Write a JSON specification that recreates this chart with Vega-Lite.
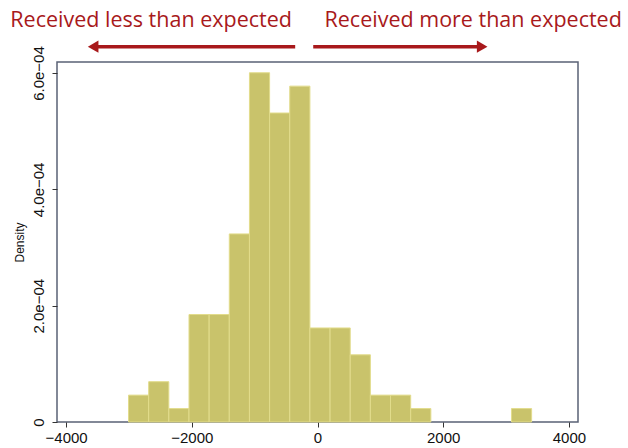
{
  "$schema": "https://vega.github.io/schema/vega-lite/v6.json",
  "width": 521,
  "height": 360,
  "autosize": "none",
  "padding": {"left": 57, "top": 62, "right": 50, "bottom": 26},
  "background": "white",
  "config": {
    "view": {"stroke": "#5a6276", "strokeWidth": 1.5},
    "font": "Liberation Sans"
  },
  "layer": [
    {
      "data": {
        "values": [
          {"bin_start": -3007, "bin_end": -2686.3, "density": 0.0000462},
          {"bin_start": -2686.3, "bin_end": -2365.6, "density": 0.0000693},
          {"bin_start": -2365.6, "bin_end": -2044.9, "density": 0.0000231},
          {"bin_start": -2044.9, "bin_end": -1724.2, "density": 0.0001848},
          {"bin_start": -1724.2, "bin_end": -1403.5, "density": 0.0001848},
          {"bin_start": -1403.5, "bin_end": -1082.8, "density": 0.0003234},
          {"bin_start": -1082.8, "bin_end": -762.1, "density": 0.0006005},
          {"bin_start": -762.1, "bin_end": -441.4, "density": 0.0005313},
          {"bin_start": -441.4, "bin_end": -120.7, "density": 0.0005775},
          {"bin_start": -120.7, "bin_end": 200, "density": 0.0001617},
          {"bin_start": 200, "bin_end": 520.7, "density": 0.0001617},
          {"bin_start": 520.7, "bin_end": 841.4, "density": 0.0001155},
          {"bin_start": 841.4, "bin_end": 1162.1, "density": 0.0000462},
          {"bin_start": 1162.1, "bin_end": 1482.8, "density": 0.0000462},
          {"bin_start": 1482.8, "bin_end": 1803.5, "density": 0.0000231},
          {"bin_start": 3086.3, "bin_end": 3407, "density": 0.0000231}
        ]
      },
      "mark": {"type": "bar", "fill": "#c9c36b", "stroke": "#e2dc8c", "strokeWidth": 1},
      "encoding": {
        "x": {
          "field": "bin_start",
          "type": "quantitative",
          "scale": {"domain": [-4145, 4145], "nice": false, "zero": false},
          "axis": {
            "values": [-4000, -2000, 0, 2000, 4000],
            "labelExpr": "replace(format(datum.value, 'd'), '-', '\u2212')",
            "grid": false,
            "domain": false,
            "tickColor": "#333333",
            "tickSize": 5,
            "tickWidth": 1,
            "labelFontSize": 15,
            "labelColor": "#111111",
            "labelPadding": 3,
            "title": null
          }
        },
        "x2": {"field": "bin_end"},
        "y": {
          "field": "density",
          "type": "quantitative",
          "scale": {"domain": [0, 0.000619], "nice": false},
          "axis": {
            "values": [0, 0.0002, 0.0004, 0.0006],
            "grid": false,
            "domain": false,
            "tickColor": "#333333",
            "tickSize": 5,
            "tickWidth": 1,
            "labelAngle": -90,
            "labelFontSize": 15,
            "labelColor": "#111111",
            "labelPadding": 6,
            "labelExpr": "datum.value == 0 ? '0' : replace(format(datum.value, '.1e'), 'e-4', 'e\u221204')",
            "title": "Density",
            "titleFontSize": 12,
            "titleFontWeight": "normal",
            "titleColor": "#111111",
            "titlePadding": 5
          }
        },
        "y2": {"datum": 0}
      }
    },
    {
      "data": {
        "values": [
          {"xa": -3560, "xb": -355, "ya": 0.0006453},
          {"xa": -68, "xb": 2610, "ya": 0.0006453}
        ]
      },
      "mark": {"type": "rule", "color": "#a8191b", "strokeWidth": 3.5, "clip": false},
      "encoding": {
        "x": {"field": "xa", "type": "quantitative"},
        "x2": {"field": "xb"},
        "y": {"field": "ya", "type": "quantitative"}
      }
    },
    {
      "data": {
        "values": [
          {"xh": -3570, "yh": 0.0006453, "dir": "left"},
          {"xh": 2620, "yh": 0.0006453, "dir": "right"}
        ]
      },
      "mark": {"type": "point", "filled": true, "opacity": 1, "color": "#a8191b", "size": 150, "clip": false},
      "encoding": {
        "x": {"field": "xh", "type": "quantitative"},
        "y": {"field": "yh", "type": "quantitative"},
        "shape": {
          "field": "dir",
          "type": "nominal",
          "scale": {"domain": ["left", "right"], "range": ["triangle-left", "triangle-right"]},
          "legend": null
        }
      }
    },
    {
      "data": {
        "values": [
          {"xt": -2647, "yt": 0.00068, "label": "Received less than expected"},
          {"xt": 2477, "yt": 0.00068, "label": "Received more than expected"}
        ]
      },
      "mark": {"type": "text", "font": "Open Sans", "fontSize": 21.5, "color": "#a8191b", "align": "center", "baseline": "alphabetic", "clip": false},
      "encoding": {
        "x": {"field": "xt", "type": "quantitative"},
        "y": {"field": "yt", "type": "quantitative"},
        "text": {"field": "label"}
      }
    }
  ]
}
